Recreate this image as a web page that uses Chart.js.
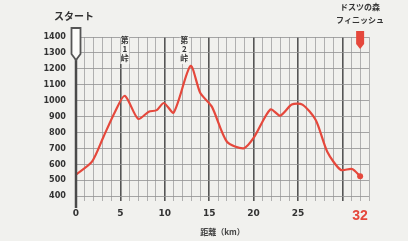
<!DOCTYPE html>
<html><head><meta charset="utf-8">
<script src="https://cdn.jsdelivr.net/npm/chart.js@4"></script>
<style>html,body{margin:0;padding:0;background:#f1f1ee;}#c{display:block}</style>
</head><body>
<canvas id="c" width="408" height="241"></canvas>
<script>
const distanceKm = [0, 1.8, 3.1, 4.4, 5.5, 7.0, 8.2, 9.1, 9.9, 11.0, 12.9, 14.0, 15.3, 17.0, 18.9, 20.0, 21.9, 23.0, 24.3, 25.5, 27.0, 28.3, 29.8, 31.1, 32.0];
const elevationM = [535, 616, 773, 930, 1030, 885, 930, 940, 985, 925, 1218, 1048, 962, 741, 700, 765, 945, 905, 975, 975, 878, 679, 565, 570, 525];
const xTickLabels = [0, 5, 10, 15, 20, 25, 32];
const yTickLabels = [400, 500, 600, 700, 800, 900, 1000, 1100, 1200, 1300, 1400];
const startLabel = "スタート";
const finishLabel = ["ドスツの森", "フィニッシュ"];
const pointLabels = [{km: 5.5, text: "第1峠"}, {km: 12.2, text: "第2峠"}];

const red = "#e5483c";
const tv = ctx => (ctx && ctx.tick) ? ctx.tick.value : null;
const markers = {
  id: "markers",
  afterDraw(chart) {
    const c = chart.ctx, x = chart.scales.x, y = chart.scales.y;
    c.save();
    const x0 = x.getPixelForValue(0);
    c.strokeStyle = "#4a4a4a"; c.lineWidth = 2.5;
    c.beginPath(); c.moveTo(x0, 58); c.lineTo(x0, 208); c.stroke();
    c.fillStyle = "#fbfbf9"; c.lineWidth = 1.8; c.strokeStyle = "#555";
    c.beginPath(); c.moveTo(x0-4.5, 28); c.lineTo(x0+4.5, 28); c.lineTo(x0+4.5, 54); c.lineTo(x0, 60); c.lineTo(x0-4.5, 54); c.closePath(); c.fill(); c.stroke();
    c.fillStyle = "#333"; c.font = "bold 10px 'Noto Sans CJK JP'"; c.textAlign = "center"; c.textBaseline = "middle";
    c.fillText(startLabel, x0 - 2, 16);
    const x1 = x.getPixelForValue(32);
    c.fillStyle = red;
    c.beginPath(); c.moveTo(x1-4, 31); c.lineTo(x1+4, 31); c.lineTo(x1+4, 44); c.lineTo(x1, 49); c.lineTo(x1-4, 44); c.closePath(); c.fill();
    c.fillStyle = "#333"; c.font = "bold 8px 'Noto Sans CJK JP'";
    c.fillText(finishLabel[0], x1, 7);
    c.fillText(finishLabel[1], x1, 20);
    c.font = "bold 8px 'Noto Sans CJK JP'";
    pointLabels.forEach(p => {
      const px = x.getPixelForValue(p.km);
      const chars = [...p.text];
      c.fillStyle = "rgba(245,245,242,0.9)";
      c.fillRect(px-4.5, 35, 9, chars.length*9+2);
      c.fillStyle = "#333";
      chars.forEach((ch, i) => c.fillText(ch, px, 40 + i*9));
    });
    c.fillStyle = red;
    c.beginPath(); c.arc(x.getPixelForValue(distanceKm[distanceKm.length-1]), y.getPixelForValue(elevationM[elevationM.length-1]), 3, 0, Math.PI*2); c.fill();
    c.restore();
  }
};

new Chart(document.getElementById("c"), {
  type: "line",
  data: {
    datasets: [{
      data: distanceKm.map((d, i) => ({x: d, y: elevationM[i]})),
      borderColor: red, borderWidth: 2.2, tension: 0.25,
      pointRadius: 0, fill: false
    }]
  },
  options: {
    responsive: false, animation: false,
    layout: {padding: {left: 0, top: 37, right: 39, bottom: 0}},
    plugins: {legend: {display: false}, tooltip: {enabled: false}},
    scales: {
      x: {
        type: "linear", min: 0, max: 33,
        afterFit(s) { s.height = 45; },
        afterBuildTicks(s) { s.ticks = Array.from({length: 34}, (_, i) => ({value: i})); },
        ticks: {
          autoSkip: false, maxRotation: 0, padding: 7,
          callback: v => xTickLabels.includes(v) ? String(v) : "",
          color: ctx => tv(ctx) === 32 ? red : "#333",
          font: ctx => tv(ctx) === 32 ? {size: 14, weight: "bold", family: "'Liberation Sans'"} : {size: 9, weight: "bold", family: "'DejaVu Sans'"}
        },
        grid: {
          color: ctx => (tv(ctx) !== null && tv(ctx) % 5 === 0) ? "#555" : "#a0a0a0",
          lineWidth: ctx => (tv(ctx) !== null && tv(ctx) % 5 === 0 && tv(ctx) > 0) ? 1.6 : 0.8,
          tickLength: 5, drawTicks: true
        },
        border: {display: false},
        title: {display: true, text: "距離（km）", color: "#444", font: {size: 8, weight: "bold", family: "'Noto Sans CJK JP'"}, padding: {top: 7}}
      },
      y: {
        min: 400, max: 1400,
        afterFit(s) { s.width = 76; },
        afterBuildTicks(s) { s.ticks = yTickLabels.map(v => ({value: v})); },
        ticks: {color: "#333", padding: 10, callback: v => String(v), font: {size: 9, weight: "bold", family: "'DejaVu Sans Condensed'"}},
        grid: {color: "#929292", lineWidth: 0.8, drawTicks: false},
        border: {display: false},
        title: {display: false}
      }
    }
  },
  plugins: [markers]
});
</script>
</body></html>
